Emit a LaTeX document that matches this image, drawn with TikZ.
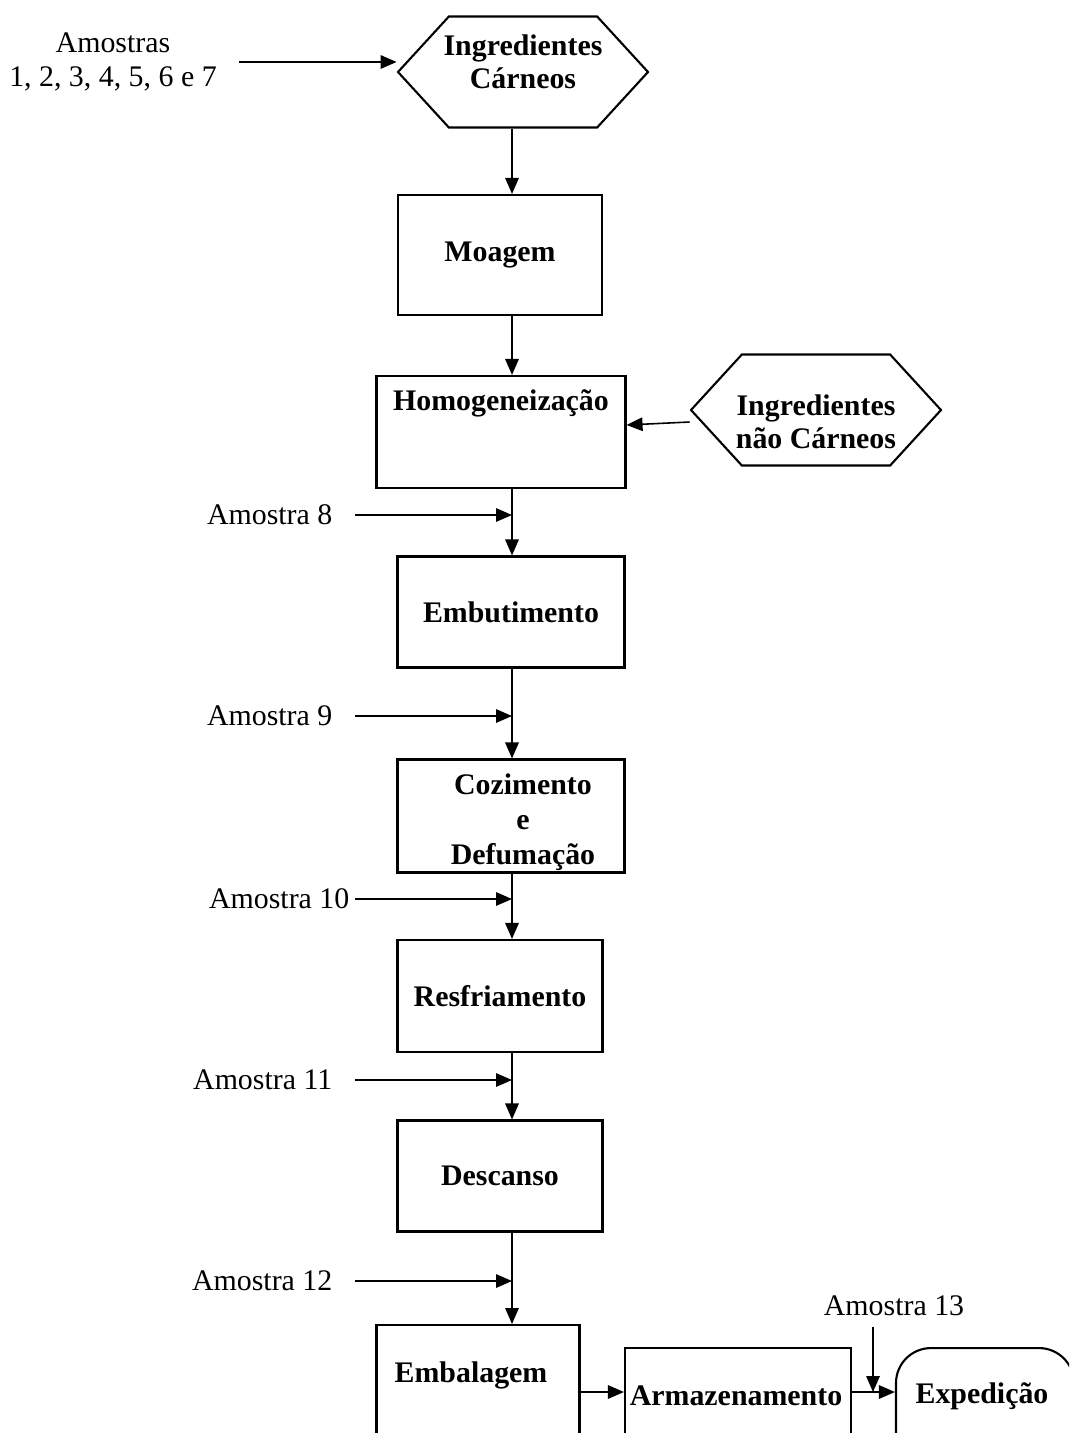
\documentclass[tikz,border=0pt]{standalone}
\usepackage{fontspec}
\setmainfont{Liberation Serif}
\usetikzlibrary{arrows.meta, shapes.symbols, positioning}

\begin{document}
\begin{tikzpicture}[x=0.1mm, y=-0.1mm,
    every node/.style={font=\fontsize{8.5}{9.5}\selectfont},
    etapa/.style={draw, line width=0.6pt, inner sep=0pt, align=center,
        font=\fontsize{8.5}{10}\selectfont\bfseries},
    rotulo/.style={inner sep=0pt, align=center, font=\fontsize{8.5}{9.5}\selectfont\bfseries},
    insumo/.style={draw, line width=0.6pt, shape=signal, signal to=west and east,
        signal pointer angle=95, minimum width=25mm, minimum height=11.1mm,
        inner sep=0pt, align=center, font=\fontsize{8.5}{9.5}\selectfont\bfseries},
    amostra/.style={inner sep=0pt, align=center},
    seta/.style={line width=0.45pt, -{Triangle[length=1.6mm, width=1.35mm]}}]
    \useasboundingbox (0,0) rectangle (1069,1433);
    \clip (0,0) rectangle (1069,1433);
    \coordinate (eixo) at (512,0);
    \coordinate (saida) at (0,1392);
    % entradas
    \node[insumo, label={[rotulo, anchor=center, yshift=1.05mm]center:Ingredientes\\Cárneos}] (carneos) at (523,72) {};
    \node[insumo, label={[rotulo, anchor=center, yshift=-1.15mm]center:Ingredientes\\não Cárneos}] (naocarneos) at (816,410) {};
    % etapas do processo
    \node[etapa, minimum width=20.4mm, minimum height=12mm] (moagem) at (500,255) {Moagem};
    \node[etapa, minimum width=24.9mm, minimum height=11.2mm,
        label={[rotulo, anchor=center, yshift=-2.8mm]north:Homogeneização}] (homog) at (501,432) {};
    \node[etapa, minimum width=22.7mm, minimum height=11.1mm] (embut) at (511,612) {Embutimento};
    \node[etapa, minimum width=22.7mm, minimum height=11.3mm,
        label={[rotulo, align=center, font=\fontsize{8.5}{10}\selectfont\bfseries, anchor=center, xshift=1.2mm, yshift=-0.6mm]center:Cozimento\\e\\Defumação}] (cozim) at (511,816) {};
    \node[etapa, minimum width=20.5mm, minimum height=11.2mm] (resfr) at (500,996) {Resfriamento};
    \node[etapa, minimum width=20.5mm, minimum height=11.1mm] (desc) at (500,1176) {Descanso};
    \node[etapa, anchor=north, minimum width=20.3mm, minimum height=25mm,
        label={[rotulo, anchor=center, xshift=-0.7mm, yshift=-5.1mm]north:Embalagem}] (embal) at (478,1324) {};
    \node[etapa, anchor=north, minimum width=22.6mm, minimum height=25mm,
        label={[rotulo, anchor=center, xshift=-0.2mm, yshift=-4.9mm]north:Armazenamento}] (armaz) at (738,1347) {};
    \node[etapa, anchor=north, rounded corners=3.5mm, minimum width=17.8mm, minimum height=25mm,
        label={[rotulo, anchor=center, xshift=-0.3mm, yshift=-4.9mm]north:Expedição}] (exped) at (985,1347) {};
    % amostras
    \node[amostra] (a1) at (113,62) {Amostras\\1, 2, 3, 4, 5, 6 e 7};
    \node[amostra, anchor=east] (a8) at (333,515) {Amostra 8};
    \node[amostra, anchor=east] (a9) at (333,716) {Amostra 9};
    \node[amostra, anchor=east] (a10) at (350,899) {Amostra 10};
    \node[amostra, anchor=east] (a11) at (333,1080) {Amostra 11};
    \node[amostra, anchor=east] (a12) at (333,1281) {Amostra 12};
    \node[amostra] (a13) at (894,1306) {Amostra 13};
    % fluxo principal
    \draw[seta] (carneos.south -| eixo) -- (moagem.north -| eixo);
    \draw[seta] (moagem.south -| eixo) -- (homog.north -| eixo);
    \draw[seta] (homog.south -| eixo) -- (embut.north -| eixo);
    \draw[seta] (embut.south -| eixo) -- (cozim.north -| eixo);
    \draw[seta] (cozim.south -| eixo) -- (resfr.north -| eixo);
    \draw[seta] (resfr.south -| eixo) -- (desc.north -| eixo);
    \draw[seta] (desc.south -| eixo) -- (embal.north -| eixo);
    \draw[seta] (embal.east |- saida) -- (armaz.west |- saida);
    \draw[seta] (armaz.east |- saida) -- (exped.west |- saida);
    \draw[seta] ([yshift=-1.2mm]naocarneos.west) -- ([yshift=0.7mm]homog.east);
    % pontos de coleta
    \draw[seta] ([xshift=2.2mm]a1.east) -- (a1.east -| carneos.west);
    \draw[seta] ([xshift=2.2mm]a8.east) -- (a8.east -| eixo);
    \draw[seta] ([xshift=2.2mm]a9.east) -- (a9.east -| eixo);
    \draw[seta] ([xshift=0.5mm]a10.east) -- (a10.east -| eixo);
    \draw[seta] ([xshift=2.2mm]a11.east) -- (a11.east -| eixo);
    \draw[seta] ([xshift=2.2mm]a12.east) -- (a12.east -| eixo);
    \draw[seta] ([xshift=-2.1mm, yshift=-1mm]a13.south) -- ([xshift=-2.1mm]a13.south |- saida);
\end{tikzpicture}
\end{document}
